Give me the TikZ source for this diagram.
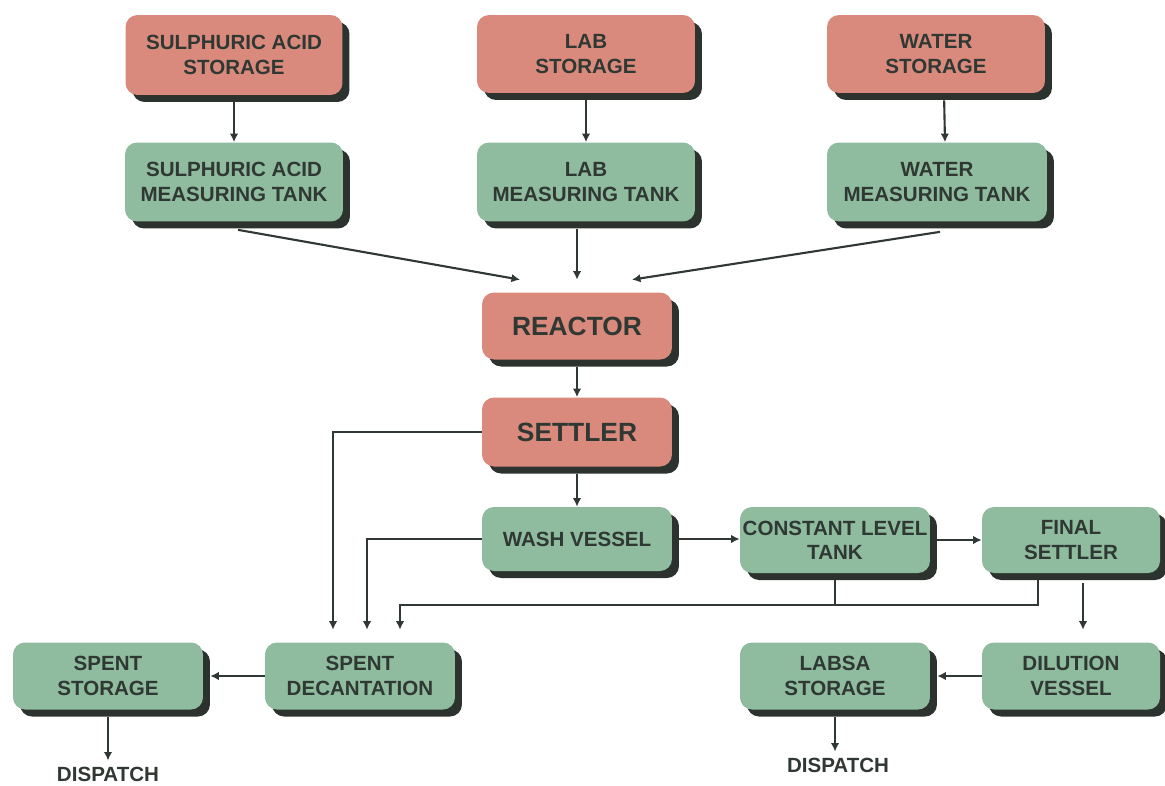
\documentclass[tikz,border=0pt]{standalone}
\usepackage{fontspec}
\setmainfont{Liberation Sans}
\usetikzlibrary{arrows.meta, shadows}
\definecolor{rawpink}{HTML}{D98A7D}
\definecolor{unitgreen}{HTML}{8FBB9F}
\definecolor{shadowgray}{HTML}{2C332E}
\definecolor{inkgray}{HTML}{2F3833}
\tikzset{
  block/.style = {rectangle, rounded corners=0.24cm, inner sep=0pt, align=center,
    text=inkgray, font=\fontsize{11.7}{13.8}\selectfont\bfseries,
    minimum width=3.8cm, minimum height=1.34cm,
    drop shadow={shadow xshift=0.14cm, shadow yshift=-0.14cm, fill=shadowgray, opacity=1}},
  raw/.style = {block, fill=rawpink},
  unit/.style = {block, fill=unitgreen},
  big/.style = {font=\fontsize{15}{17}\selectfont\bfseries},
  label/.style = {text=inkgray, font=\fontsize{11.7}{13.8}\selectfont\bfseries},
  arrow/.style = {draw=inkgray, line width=1.2pt, -{Latex[length=1.7mm, width=1.7mm]}},
  pipe/.style = {draw=inkgray, line width=1.2pt},
}

\begin{document}
\begin{tikzpicture}[x=0.02cm, y=-0.02cm]
  \useasboundingbox (0,0) rectangle (1165,785);

  \node (sastore) [raw, minimum width=4.34cm, minimum height=1.6cm] at (234,55) {SULPHURIC ACID\\STORAGE};
  \node (labstore) [raw, minimum width=4.36cm, minimum height=1.56cm] at (586,54) {LAB\\STORAGE};
  \node (waterstore) [raw, minimum width=4.36cm, minimum height=1.56cm] at (936,54) {WATER\\STORAGE};
  \node (satank) [unit, minimum width=4.36cm, minimum height=1.58cm] at (234,182) {SULPHURIC ACID\\MEASURING TANK};
  \node (labtank) [unit, minimum width=4.36cm, minimum height=1.58cm] at (586,182) {LAB\\MEASURING TANK};
  \node (watertank) [unit, minimum width=4.4cm, minimum height=1.58cm] at (937,182) {WATER\\MEASURING TANK};
  \node (reactor) [raw, big] at (577,326) {REACTOR};
  \node (settler) [raw, big, minimum height=1.38cm] at (577,432) {SETTLER};
  \node (wash) [unit, minimum height=1.28cm] at (577,539) {WASH VESSEL};
  \node (clt) [unit, minimum height=1.32cm] at (835,540) {CONSTANT LEVEL\\TANK};
  \node (fsettler) [unit, minimum width=3.56cm, minimum height=1.32cm] at (1071,540) {FINAL\\SETTLER};
  \node (dilution) [unit, minimum width=3.56cm] at (1071,676) {DILUTION\\VESSEL};
  \node (labsa) [unit] at (835,676) {LABSA\\STORAGE};
  \node (spentdec) [unit] at (360,676) {SPENT\\DECANTATION};
  \node (spentstore) [unit] at (108,676) {SPENT\\STORAGE};
  \node (disp1) [label] at (108,774) {DISPATCH};
  \node (disp2) [label] at (838,765) {DISPATCH};
  \coordinate (join) at ([yshift=-0.64cm]clt.south);

  \draw [arrow, shorten <=0.14cm] (sastore) -- (satank);
  \draw [arrow, shorten <=0.14cm] (labstore) -- (labtank);
  \draw [arrow, shorten <=0.14cm] ([xshift=0.16cm]waterstore.south) -- ([xshift=0.16cm]watertank.north);
  \draw [arrow] ([xshift=0.08cm, yshift=-0.16cm]satank.south) -- ([xshift=-1.14cm, yshift=0.25cm]reactor.north);
  \draw [arrow, shorten <=0.14cm] (labtank.south -| reactor.north) -- ([yshift=0.25cm]reactor.north);
  \draw [arrow] ([xshift=0.06cm, yshift=-0.2cm]watertank.south) -- ([xshift=1.1cm, yshift=0.25cm]reactor.north);
  \draw [arrow, shorten <=0.14cm] (reactor) -- (settler);
  \draw [arrow, shorten <=0.14cm] (settler) -- (wash);
  \draw [arrow] (settler.west) -| ([xshift=-0.54cm, yshift=0.25cm]spentdec.north);
  \draw [arrow] (wash.west) -| ([xshift=0.14cm, yshift=0.25cm]spentdec.north);
  \draw [arrow, shorten <=0.14cm] (wash.east) -- (wash.east -| clt.west);
  \draw [arrow, shorten <=0.14cm] (clt.east) -- (clt.east -| fsettler.west);
  \draw [pipe, shorten <=0.14cm] ([xshift=-0.66cm]fsettler.south) |- (join);
  \draw [arrow, shorten <=0.14cm] (clt.south) -- (join) -| ([xshift=0.8cm, yshift=0.25cm]spentdec.north);
  \draw [arrow, shorten <=0.2cm] ([xshift=0.24cm]fsettler.south) -- ([xshift=0.24cm, yshift=0.25cm]dilution.north);
  \draw [arrow, shorten >=0.14cm] (dilution.west) -- (labsa.east);
  \draw [arrow, shorten >=0.14cm] (spentdec.west) -- (spentstore.east);
  \draw [arrow, shorten <=0.14cm] (spentstore.south) -- (spentstore.south |- disp1.north);
  \draw [arrow, shorten <=0.14cm] (labsa.south) -- (labsa.south |- disp2.north);

\end{tikzpicture}
\end{document}
